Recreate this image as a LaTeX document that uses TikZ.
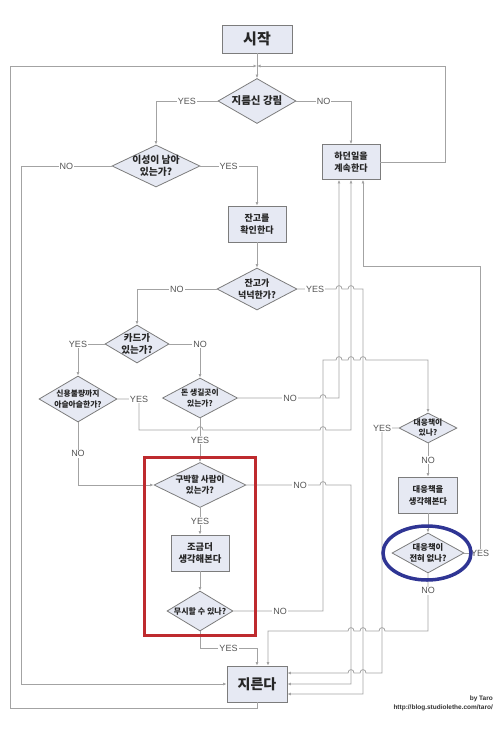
\documentclass[tikz,border=0pt]{standalone}
\usepackage{fontspec}
\setmainfont{Liberation Sans}
\newfontfamily\krfont{Noto Sans CJK KR}
\usetikzlibrary{calc}
\usetikzlibrary{arrows.meta}
\usetikzlibrary{shapes.geometric}
\definecolor{boxfill}{HTML}{E6E9F3}
\definecolor{boxline}{HTML}{7C7C7C}
\definecolor{flowline}{HTML}{A3A3A3}
\definecolor{lbltext}{HTML}{555555}
\definecolor{markred}{HTML}{BE2A2E}
\definecolor{markblue}{HTML}{2F3594}
\tikzstyle{procbox} = [draw=boxline, fill=boxfill, rectangle, line width=0.8pt, align=center, inner sep=0pt, text=black!85, font=\krfont\bfseries\fontsize{9}{12}\selectfont]
\tikzstyle{askbox} = [draw=boxline, fill=boxfill, diamond, aspect=2, line width=0.8pt, align=center, inner xsep=-3pt, inner ysep=-2pt, text=black!85, font=\krfont\bfseries\fontsize{9}{11.5}\selectfont]
\tikzstyle{flow} = [draw=flowline, line width=0.8pt, -{Latex[length=3.5pt,width=3pt]}]
\tikzstyle{wire} = [draw=flowline, line width=0.8pt]
\tikzstyle{lbl} = [fill=white, inner sep=1pt, text=lbltext, font=\fontsize{9}{9}\selectfont]
\tikzset{
  hopr/.style 2 args={insert path={-- (#1-3,#2) .. controls +(0,-4.5) and +(0,-4.5) .. (#1+3,#2)}},
  hopl/.style 2 args={insert path={-- (#1+3,#2) .. controls +(0,-4.5) and +(0,-4.5) .. (#1-3,#2)}}
}

\begin{document}
\begin{tikzpicture}[x=1pt, y=-1pt]
  \useasboundingbox (0,0) rectangle (500,736);

  % boxes and questions
  \node[procbox, minimum width=70pt, minimum height=28pt, font=\krfont\bfseries\fontsize{15}{15}\selectfont] (start) at (257,39) {시작};
  \coordinate (merge) at (257,66);
  \node[askbox, minimum width=78pt, minimum height=45pt, font=\krfont\bfseries\fontsize{10.5}{10.5}\selectfont] (d1) at (257,101) {지름신 강림};
  \node[procbox, minimum width=58pt, minimum height=35pt] (keepon) at (351,162) {하던일을\\계속한다};
  \node[askbox, minimum width=88pt, minimum height=42pt, font=\krfont\bfseries\fontsize{9.8}{11.5}\selectfont] (d2) at (156,166) {이성이 남아\\있는가?};
  \node[procbox, minimum width=58pt, minimum height=36pt] (check) at (257,224) {잔고를\\확인한다};
  \node[askbox, minimum width=80pt, minimum height=42pt] (d3) at (257,289) {잔고가\\넉넉한가?};
  \node[askbox, minimum width=64pt, minimum height=38pt, font=\krfont\bfseries\fontsize{9.5}{11.5}\selectfont] (d4) at (137,344) {카드가\\있는가?};
  \node[askbox, minimum width=78pt, minimum height=46pt, font=\krfont\bfseries\fontsize{7.8}{10.5}\selectfont] (d5) at (78,399) {신용불량까지\\아슬아슬한가?};
  \node[askbox, minimum width=75pt, minimum height=40pt, font=\krfont\bfseries\fontsize{7.8}{10.5}\selectfont] (d6) at (200,398) {돈 생길곳이\\있는가?};
  \node[askbox, minimum width=92pt, minimum height=45pt, font=\krfont\bfseries\fontsize{8.5}{11.5}\selectfont] (d7) at (200,485) {구박할 사람이\\있는가?};
  \node[procbox, minimum width=58pt, minimum height=36pt, font=\krfont\bfseries\fontsize{9.3}{12.5}\selectfont] (think) at (200,553) {조금더\\생각해본다};
  \node[askbox, minimum width=66pt, minimum height=40pt, inner xsep=-9pt, font=\krfont\bfseries\fontsize{8}{10}\selectfont] (d8) at (200,611) {무시할 수 있나?};
  \node[procbox, minimum width=60pt, minimum height=36pt, font=\krfont\bfseries\fontsize{14}{14}\selectfont] (buy) at (257,684) {지른다};
  \node[askbox, minimum width=58pt, minimum height=30pt, font=\krfont\bfseries\fontsize{7.8}{10}\selectfont] (d9) at (428,428) {대응책이\\있나?};
  \node[procbox, minimum width=59pt, minimum height=36pt, font=\krfont\bfseries\fontsize{8.3}{12}\selectfont] (plan) at (428,495) {대응책을\\생각해본다};
  \node[askbox, minimum width=72pt, minimum height=40pt, font=\krfont\bfseries\fontsize{8.3}{11.5}\selectfont] (d10) at (428,553) {대응책이\\전혀 없나?};

  % loops back to the top
  \draw[wire] (start) -- (merge);
  \draw[flow] (merge) -- (d1);
  \draw[flow] (buy.south) -- ++(0,6) -| (10,66) -- (merge);
  \draw[flow] (keepon.east) -| (445,66) -- (merge);

  % left half
  \draw[flow] (d1.west) -| node[lbl, pos=0.25] {YES} (d2.north);
  \draw[flow] (d1.east) -| node[lbl, pos=0.25] {NO} (keepon.north);
  \draw[flow] (d2.west) -- node[lbl] {NO} (21,166) |- (buy.west);
  \draw[flow] (d2.east) -| node[lbl, pos=0.25] {YES} (check.north);
  \draw[flow] (check) -- (d3);
  \draw[flow] (d3.west) -| node[lbl, pos=0.25] {NO} (d4.north);
  \draw[flow] (d3.east) -- node[lbl] {YES} (333,289) [hopr={339}{289}] [hopr={351}{289}] -- (363,289) |- ($(buy.east)+(0,10)$);
  \draw[flow] (d4.west) -| node[lbl] {YES} (d5.north);
  \draw[flow] (d4.east) -| node[lbl] {NO} (d6.north);
  \draw[flow] (d5.east) -- (139,399) node[lbl] {YES} -- (139,430) [hopr={200}{430}] [hopr={323}{430}] -| (keepon.south);
  \draw[flow] (d5.south) -- node[lbl] {NO} (78,485) -- (d7.west);
  \draw[flow] (d6.south) -- node[lbl] {YES} (d7.north);
  \draw[flow] (d6.east) -- (290,398) node[lbl] {NO} [hopr={323}{398}] -- (339,398) -- ($(keepon.south)+(-12,0)$);
  \draw[flow] (d7.east) -- (300,485) node[lbl] {NO} [hopr={323}{485}] -- (351,485) |- (buy.east);
  \draw[flow] (d7) -- node[lbl] {YES} (think);
  \draw[flow] (think) -- (d8);
  \draw[flow] (d8.east) -- (280,611) node[lbl] {NO} -- (323,611) -- (323,360) [hopr={339}{360}] [hopr={351}{360}] [hopr={363}{360}] -| (d9.north);
  \draw[flow] (d8.south) -- (200,648) -- node[lbl] {YES} (257,648) -- (buy.north);

  % right half
  \draw[flow] (d9.west) -- (382,428) node[lbl] {YES} -- (382,673) [hopl={363}{673}] [hopl={351}{673}] -- ($(buy.east)+(0,-11)$);
  \draw[flow] (d9) -- node[lbl] {NO} (plan);
  \draw[flow] (plan) -- (d10);
  \draw[flow] (d10.east) -- (480,553) node[lbl] {YES} -- (480,266) -| ($(keepon.south)+(12,0)$);
  \draw[flow] (d10.south) -- node[lbl, pos=0.3] {NO} (428,631) [hopl={382}{631}] [hopl={363}{631}] [hopl={351}{631}] -| ($(buy.north)+(11,0)$);

  % marks
  \draw[markred, line width=3pt] (144,457) rectangle (255,635);
  \draw[markblue, line width=3.5pt] (427,553) ellipse [x radius=44, y radius=27];

  \node[anchor=south east, align=right, inner sep=0pt, text=black!80, font=\bfseries\fontsize{6.5}{9}\selectfont] (credit) at (493,711) {by Taro\\http://blog.studiolethe.com/taro/};
\end{tikzpicture}
\end{document}
